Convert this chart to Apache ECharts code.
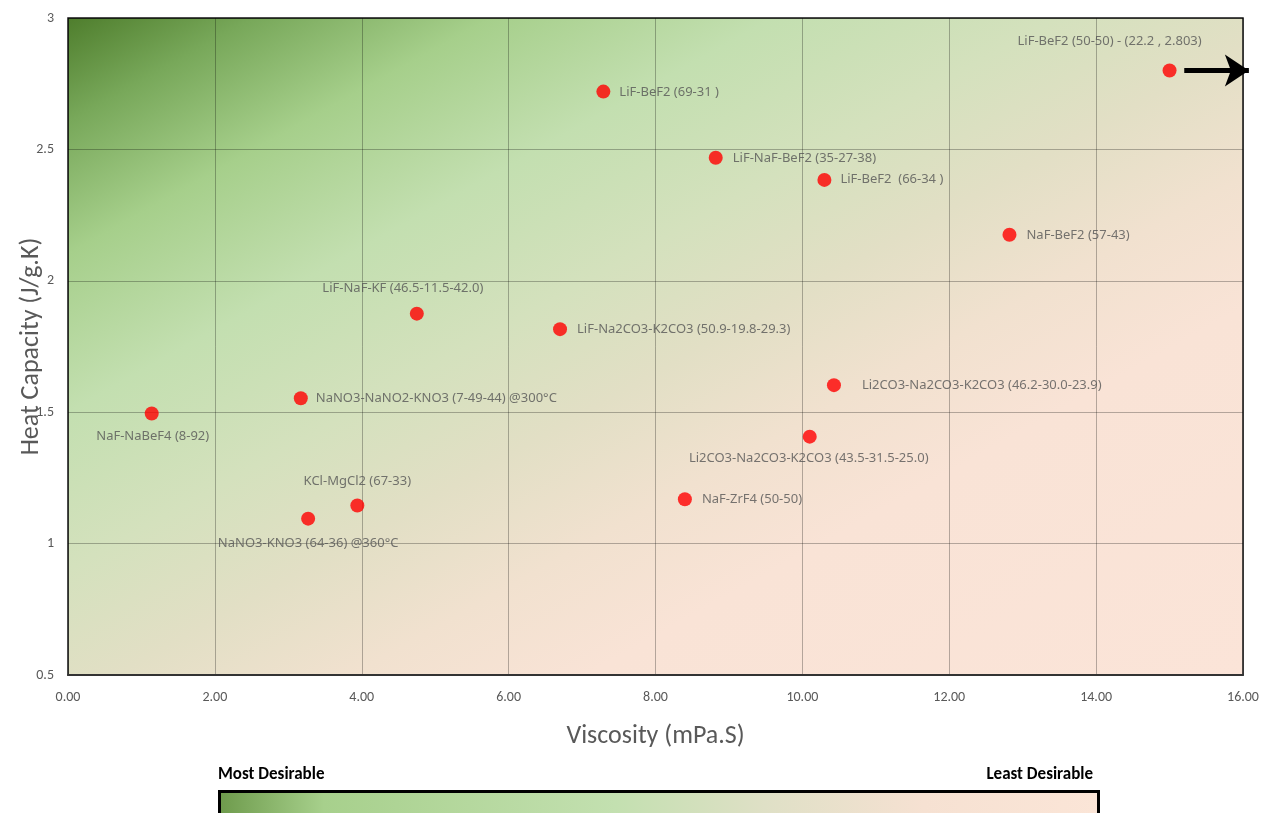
<!doctype html>
<html>
<head>
    <meta charset="UTF-8">
    <script src="https://cdn.jsdelivr.net/npm/echarts@6/dist/echarts.min.js"></script>
    <style>
        html, body { margin: 0; padding: 0; background: #fff; }
        #main { width: 1265px; height: 813px; }
    </style>
</head>
<body>
<div id="main"></div>
<script type="text/javascript">
    // salt names and values
    var saltNames = [
        'LiF-BeF2 (50-50) - (22.2 , 2.803)',
        'LiF-BeF2 (69-31 )',
        'LiF-NaF-BeF2 (35-27-38)',
        'LiF-BeF2  (66-34 )',
        'NaF-BeF2 (57-43)',
        'LiF-NaF-KF (46.5-11.5-42.0)',
        'LiF-Na2CO3-K2CO3 (50.9-19.8-29.3)',
        'NaNO3-NaNO2-KNO3 (7-49-44) @300°C',
        'NaF-NaBeF4 (8-92)',
        'Li2CO3-Na2CO3-K2CO3 (46.2-30.0-23.9)',
        'Li2CO3-Na2CO3-K2CO3 (43.5-31.5-25.0)',
        'NaF-ZrF4 (50-50)',
        'KCl-MgCl2 (67-33)',
        'NaNO3-KNO3 (64-36) @360°C'
    ];
    var viscosity = [15.0, 7.29, 8.82, 10.30, 12.82, 4.75, 6.70, 3.17, 1.14, 10.43, 10.10, 8.40, 3.94, 3.27];
    var heatCapacity = [2.80, 2.72, 2.468, 2.384, 2.175, 1.875, 1.816, 1.553, 1.495, 1.603, 1.407, 1.169, 1.145, 1.095];
    var xTicks = [0, 2, 4, 6, 8, 10, 12, 14, 16];
    var yTicks = [0.5, 1, 1.5, 2, 2.5, 3];
    // the first salt is off the scale (22.2), shown by an arrow
    var arrowFrom = [15.2, 2.80];
    var arrowTo = [16.08, 2.80];

    // where each label sits relative to its dot: [dx, dy, align]
    var labelPlace = [
        [-60, -29, 'center'],
        [16, 1, 'left'],
        [17, 0, 'left'],
        [16, -1, 'left'],
        [17, 0, 'left'],
        [-14, -25, 'center'],
        [17, 0, 'left'],
        [15, 0, 'left'],
        [1, 23, 'center'],
        [28, 0, 'left'],
        [-1, 22, 'center'],
        [17, 0, 'left'],
        [0, -24, 'center'],
        [0, 25, 'center']
    ];

    var points = [];
    for (var i = 0; i < saltNames.length; i++) {
        var p = labelPlace[i];
        points.push({
            name: saltNames[i],
            value: [viscosity[i], heatCapacity[i]],
            label: { offset: [p[0], p[1]], align: p[2] }
        });
    }

    // the plot background runs green (top left) to peach (bottom right)
    var W = 1175, H = 657;
    var gx = 2 * H * H / (H * H + W * W), gy = 2 * W * W / (H * H + W * W);
    var plotBg = new echarts.graphic.LinearGradient(0, 0, gx, gy, [
        { offset: 0, color: '#4e7d2c' },
        { offset: 0.08, color: '#78a85a' },
        { offset: 0.18, color: '#a6cf8b' },
        { offset: 0.3, color: '#c3dfb0' },
        { offset: 0.42, color: '#d4e1bd' },
        { offset: 0.52, color: '#e2dfc5' },
        { offset: 0.62, color: '#f1e1cf' },
        { offset: 0.72, color: '#f9e3d6' },
        { offset: 1, color: '#fbe4d8' }
    ]);

    var barBg = new echarts.graphic.LinearGradient(0, 0, 1, 0, [
        { offset: 0, color: '#6d9a4b' },
        { offset: 0.12, color: '#a7d08c' },
        { offset: 0.45, color: '#c3e0b0' },
        { offset: 0.62, color: '#dfe0c6' },
        { offset: 0.8, color: '#f6e1d2' },
        { offset: 1, color: '#fbe5d7' }
    ]);

    var myChart = echarts.init(document.getElementById('main'));
    var option = {
        animation: false,
        textStyle: { fontFamily: 'Carlito, "Liberation Sans Narrow", "Open Sans", sans-serif' },
        grid: {
            left: 68, right: 22, top: 18, bottom: 138,
            containLabel: false,
            outerBoundsMode: 'none',
            show: true,
            backgroundColor: plotBg,
            borderColor: '#111',
            borderWidth: 1.5
        },
        xAxis: {
            type: 'value',
            min: xTicks[0], max: xTicks[xTicks.length - 1], interval: 2,
            name: 'Viscosity (mPa.S)',
            nameLocation: 'middle',
            nameGap: 48,
            nameMoveOverlap: false,
            nameTextStyle: { fontSize: 26, color: '#595959' },
            axisLine: { show: true, lineStyle: { color: '#333', width: 2 } },
            axisTick: { show: false },
            axisLabel: {
                color: '#595959', fontSize: 14, margin: 15,
                formatter: function (v) { return v.toFixed(2); }
            },
            splitLine: { show: true, lineStyle: { color: 'rgba(0,0,0,0.28)', width: 1 } }
        },
        yAxis: {
            type: 'value',
            min: yTicks[0], max: yTicks[yTicks.length - 1], interval: 0.5,
            name: 'Heat Capacity (J/g.K)',
            nameLocation: 'middle',
            nameGap: 24,
            nameMoveOverlap: false,
            nameTextStyle: { fontSize: 26, color: '#595959' },
            axisLine: { show: false },
            axisTick: { show: false },
            axisLabel: { color: '#595959', fontSize: 14, margin: 14 },
            splitLine: { show: true, lineStyle: { color: 'rgba(0,0,0,0.28)', width: 1 } }
        },
        series: [{
            type: 'scatter',
            data: points,
            symbolSize: 14,
            z: 3,
            itemStyle: { color: '#ff0000' },
            label: {
                show: true,
                position: 'inside',
                verticalAlign: 'middle',
                formatter: '{b}',
                color: '#555555',
                fontSize: 13,
                fontFamily: '"Noto Sans", sans-serif'
            }
        }, {
            type: 'lines',
            coordinateSystem: 'cartesian2d',
            clip: false,
            silent: true,
            z: 4,
            symbol: ['none', 'arrow'],
            symbolSize: [0, 24],
            lineStyle: { color: '#000', width: 5, opacity: 1, curveness: 0 },
            data: [{ coords: [arrowFrom, arrowTo] }]
        }],
        graphic: [
            {
                type: 'text', left: 218, top: 766,
                style: { text: 'Most Desirable', font: 'bold 17px Carlito, "Liberation Sans Narrow", sans-serif', fill: '#000' }
            },
            {
                type: 'text', right: 1265 - 1093, top: 766,
                style: { text: 'Least Desirable', font: 'bold 17px Carlito, "Liberation Sans Narrow", sans-serif', fill: '#000' }
            },
            {
                type: 'rect', left: 218, top: 790,
                shape: { width: 879, height: 30 },
                style: { fill: barBg, stroke: '#000', lineWidth: 3 }
            }
        ]
    };
    myChart.setOption(option);
</script>
</body>
</html>
